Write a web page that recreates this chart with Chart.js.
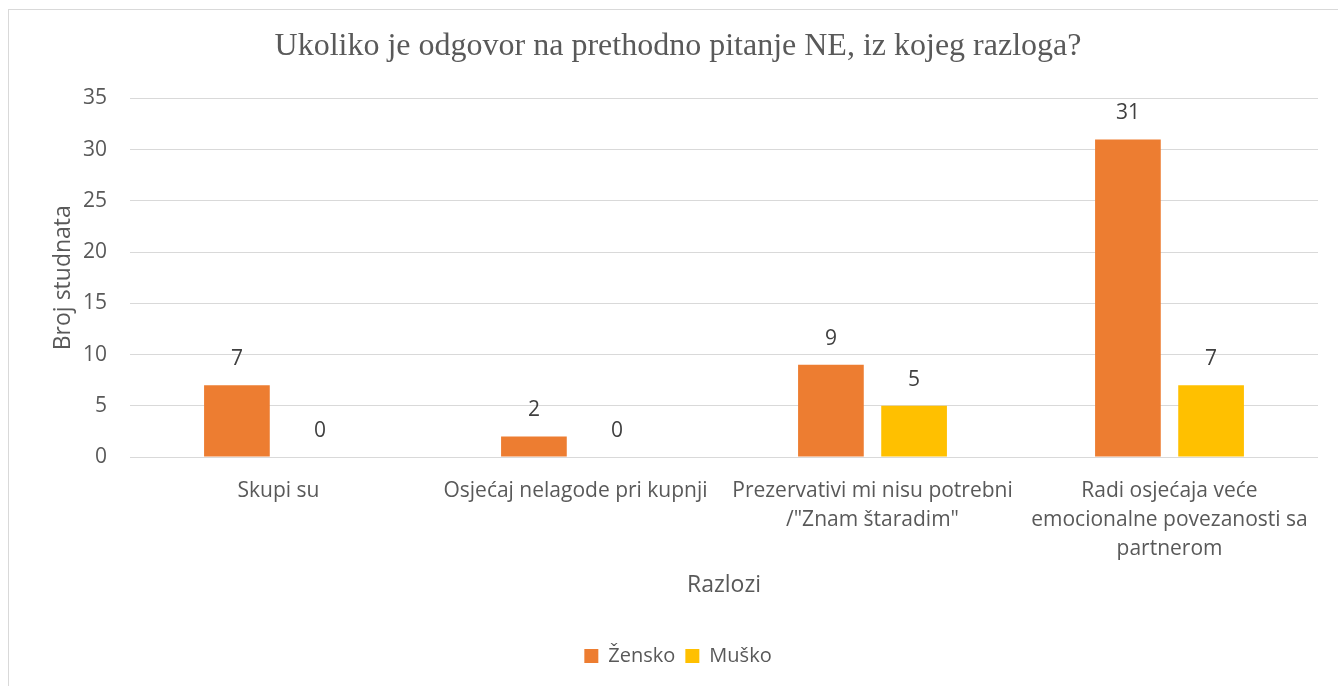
<!DOCTYPE html>
<html>
<head>
<meta charset="utf-8">
<script src="https://cdn.jsdelivr.net/npm/chart.js@4.4.1/dist/chart.umd.min.js"></script>
<style>
    html, body { margin: 0; padding: 0; background: #fff; overflow: hidden; }
    #wrap { position: absolute; left: 0; top: 0; width: 1338px; height: 686px; }
    #frame { position: absolute; left: 8px; top: 9px; width: 1340px; height: 700px; border: 1px solid #d9d9d9; box-sizing: border-box; }
    canvas { position: absolute; left: 0; top: 0; }
</style>
</head>
<body>
<div id="wrap">
    <div id="frame"></div>
    <canvas id="chart" width="1338" height="686"></canvas>
</div>
<script>
// Razlozi i broj studenata po spolu
const categories = [
    'Skupi su',
    'Osjećaj nelagode pri kupnji',
    ['Prezervativi mi nisu potrebni', '/"Znam štaradim"'],
    ['Radi osjećaja veće', 'emocionalne povezanosti sa', 'partnerom']
];
const zenskoValues = [7, 2, 9, 31];
const muskoValues = [0, 0, 5, 7];
const yTicks = [0, 5, 10, 15, 20, 25, 30, 35];

const TEXT = '#595959';
const FONT = "'Open Sans', sans-serif";

// value labels above bars (also for zeros)
const valueLabels = {
    id: 'valueLabels',
    afterDatasetsDraw(chart) {
        const { ctx } = chart;
        ctx.save();
        ctx.font = `21px ${FONT}`;
        ctx.fillStyle = '#404040';
        ctx.textAlign = 'center';
        ctx.textBaseline = 'middle';
        chart.data.datasets.forEach((ds, i) => {
            const meta = chart.getDatasetMeta(i);
            meta.data.forEach((bar, j) => {
                ctx.fillText(String(ds.data[j]), bar.x, bar.y - 26);
            });
        });
        ctx.restore();
    }
};

new Chart(document.getElementById('chart'), {
    type: 'bar',
    data: {
        labels: categories,
        datasets: [
            {
                label: 'Žensko',
                data: zenskoValues,
                backgroundColor: '#ED7D31',
                categoryPercentage: 0.56,
                barPercentage: 0.79
            },
            {
                label: 'Muško',
                data: muskoValues,
                backgroundColor: '#FFC000',
                categoryPercentage: 0.56,
                barPercentage: 0.79
            }
        ]
    },
    options: {
        responsive: false,
        animation: false,
        layout: { padding: { left: 38, right: 20, top: 0, bottom: 10 } },
        plugins: {
            title: {
                display: true,
                text: 'Ukoliko je odgovor na prethodno pitanje NE, iz kojeg razloga?',
                color: TEXT,
                font: { family: "'Liberation Serif', serif", size: 32, weight: 'normal' },
                padding: { top: 27, bottom: 33 }
            },
            legend: {
                position: 'bottom',
                labels: {
                    color: TEXT,
                    font: { family: FONT, size: 20 },
                    boxWidth: 14,
                    boxHeight: 14,
                    padding: 10
                }
            },
            tooltip: { enabled: false }
        },
        scales: {
            x: {
                grid: { display: false },
                border: { display: false },
                ticks: {
                    color: TEXT,
                    font: { family: FONT, size: 21, lineHeight: 1.38 },
                    padding: 12,
                    maxRotation: 0,
                    autoSkip: false
                },
                title: {
                    display: true,
                    text: 'Razlozi',
                    color: TEXT,
                    font: { family: FONT, size: 23 },
                    padding: { top: 0, bottom: 37 }
                },
                afterFit(scale) { scale.height = 179; }
            },
            y: {
                min: 0,
                max: 35,
                afterBuildTicks(scale) { scale.ticks = yTicks.map(v => ({ value: v })); },
                grid: { color: '#d9d9d9', drawTicks: false },
                border: { display: false },
                ticks: {
                    color: TEXT,
                    font: { family: FONT, size: 21 },
                    padding: 23
                },
                title: {
                    display: true,
                    text: 'Broj studnata',
                    color: TEXT,
                    font: { family: FONT, size: 23 },
                    padding: { top: 12, bottom: 0 }
                },
                afterFit(scale) { scale.width = 92; }
            }
        }
    },
    plugins: [valueLabels]
});
</script>
</body>
</html>
